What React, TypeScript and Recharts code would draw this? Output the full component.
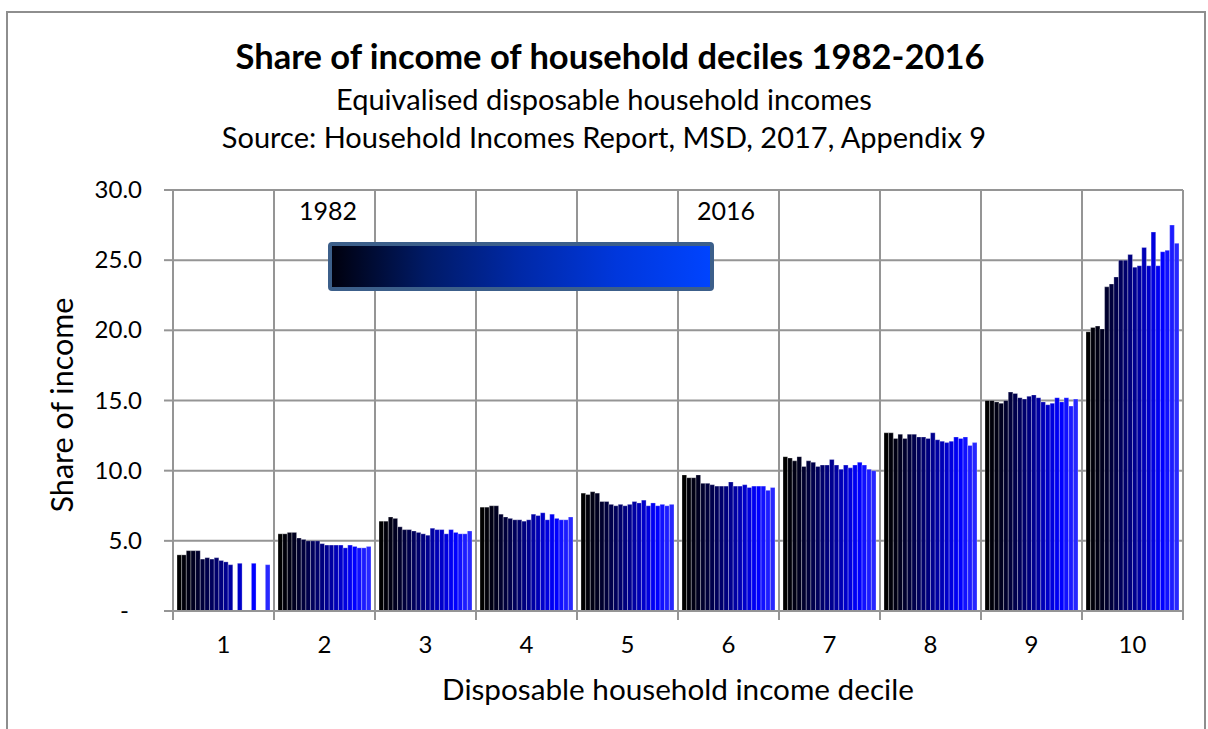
import { BarChart, Bar, XAxis, YAxis, CartesianGrid } from "recharts";

const W = 1208;
const H = 729;
const MARGIN = { top: 190, right: 25, bottom: 88, left: 93 };
const Y_AXIS_W = 80;
const X_AXIS_H = 30;
const PLOT_LEFT = MARGIN.left + Y_AXIS_W;
const PLOT_W = W - PLOT_LEFT - MARGIN.right;
const BAND = PLOT_W / 10;
const PLOT_BOTTOM = H - MARGIN.bottom - X_AXIS_H;
const GRID = "#959595";
const FONT = "Lato, 'Open Sans', sans-serif";

const deciles = ["1", "2", "3", "4", "5", "6", "7", "8", "9", "10"];
const years = [
  1982, 1984, 1986, 1988, 1990, 1992, 1994, 1996, 1998, 2001,
  2004, 2007, 2009, 2010, 2011, 2012, 2013, 2014, 2015, 2016,
];
const yTicks = [0, 5, 10, 15, 20, 25, 30];

// share of income (%) per decile, one value per survey year
const d1 = [4.0, 4.0, 4.3, 4.3, 4.3, 3.7, 3.8, 3.7, 3.8, 3.6, 3.5, 3.3, null, 3.4, null, null, 3.4, null, null, 3.3];
const d2 = [5.5, 5.5, 5.6, 5.6, 5.2, 5.1, 5.0, 5.0, 5.0, 4.8, 4.7, 4.7, 4.7, 4.7, 4.5, 4.7, 4.6, 4.5, 4.5, 4.6];
const d3 = [6.4, 6.4, 6.7, 6.6, 6.0, 5.8, 5.8, 5.7, 5.6, 5.5, 5.4, 5.9, 5.8, 5.8, 5.5, 5.8, 5.6, 5.5, 5.5, 5.7];
const d4 = [7.4, 7.4, 7.5, 7.5, 6.9, 6.7, 6.6, 6.5, 6.5, 6.4, 6.5, 6.9, 6.8, 7.0, 6.5, 6.9, 6.6, 6.5, 6.5, 6.7];
const d5 = [8.4, 8.3, 8.5, 8.4, 7.8, 7.8, 7.6, 7.5, 7.6, 7.5, 7.6, 7.8, 7.7, 7.9, 7.5, 7.7, 7.5, 7.6, 7.5, 7.6];
const d6 = [9.7, 9.5, 9.5, 9.7, 9.1, 9.1, 9.0, 8.9, 8.9, 8.9, 9.2, 8.9, 8.9, 9.0, 8.8, 8.9, 8.9, 8.9, 8.6, 8.8];
const d7 = [11.0, 10.9, 10.7, 11.0, 10.3, 10.7, 10.6, 10.3, 10.4, 10.4, 10.8, 10.4, 10.1, 10.4, 10.2, 10.4, 10.6, 10.4, 10.1, 10.0];
const d8 = [12.7, 12.7, 12.3, 12.6, 12.3, 12.6, 12.6, 12.4, 12.4, 12.3, 12.7, 12.2, 12.1, 12.0, 12.1, 12.4, 12.3, 12.4, 11.8, 12.0];
const d9 = [15.0, 15.0, 14.9, 14.8, 15.0, 15.6, 15.5, 15.2, 15.1, 15.3, 15.4, 15.2, 14.9, 14.7, 14.8, 15.2, 14.9, 15.2, 14.6, 15.1];
const d10 = [19.9, 20.2, 20.3, 20.1, 23.1, 23.3, 23.8, 25.0, 25.0, 25.4, 24.5, 24.6, 25.9, 24.6, 27.0, 24.6, 25.6, 25.7, 27.5, 26.2];

const allDeciles = [d1, d2, d3, d4, d5, d6, d7, d8, d9, d10];

// black to blue, one shade per year
const yearColors = [
  "#000000", "#00000a", "#000014", "#000020", "#00002e", "#00003c", "#00004c", "#00005c", "#00006c", "#00007e",
  "#000090", "#0000a2", "#0000b6", "#0000ca", "#0000de", "#0000f2", "#0000ff", "#1010ff", "#1c1cff", "#2828ff",
];

const data = deciles.map((decile, i) => {
  const row: Record<string, string | number | null> = { decile };
  years.forEach((yr, j) => {
    row["y" + yr] = allDeciles[i][j];
  });
  return row;
});

// eslint-disable-next-line @typescript-eslint/no-explicit-any
function DecileTick({ x, payload, index }: any) {
  const left = x - BAND / 2;
  const right = x + BAND / 2;
  return (
    <g>
      <line x1={left} x2={left} y1={PLOT_BOTTOM} y2={PLOT_BOTTOM + 9} stroke={GRID} strokeWidth={2} />
      {index === deciles.length - 1 && (
        <line x1={right} x2={right} y1={PLOT_BOTTOM} y2={PLOT_BOTTOM + 9} stroke={GRID} strokeWidth={2} />
      )}
      <text x={x} y={PLOT_BOTTOM + 42} textAnchor="middle" fontSize={24} fontFamily={FONT} fill="#000">
        {payload.value}
      </text>
    </g>
  );
}

// eslint-disable-next-line @typescript-eslint/no-explicit-any
function ShareTick({ x, y, payload }: any) {
  const zero = payload.value === 0;
  return (
    <text
      x={zero ? x - 13 : x}
      y={y + 8}
      textAnchor="end"
      fontSize={24}
      fontFamily={FONT}
      fill="#000"
    >
      {zero ? "-" : Number(payload.value).toFixed(1)}
    </text>
  );
}

export default function App() {
  return (
    <div style={{ position: "absolute", left: 0, top: 0, width: W, height: H, overflow: "hidden", background: "#fff" }}>
      <BarChart width={W} height={H} data={data} margin={MARGIN} barGap={0}>
        <CartesianGrid
          stroke={GRID}
          strokeWidth={2}
          verticalCoordinatesGenerator={() => deciles.concat("end").map((_, k) => PLOT_LEFT + k * BAND)}
        />
        <XAxis
          dataKey="decile"
          height={X_AXIS_H}
          axisLine={{ stroke: GRID, strokeWidth: 2 }}
          tickLine={false}
          tick={<DecileTick />}
          interval={0}
        />
        <YAxis
          width={Y_AXIS_W}
          domain={[0, 30]}
          ticks={yTicks}
          allowDataOverflow
          axisLine={{ stroke: GRID, strokeWidth: 2 }}
          tickLine={{ stroke: GRID, strokeWidth: 2 }}
          tickSize={9}
          tickMargin={22}
          tick={<ShareTick />}
        />
        {years.map((yr, j) => (
          <Bar
            key={yr}
            dataKey={"y" + yr}
            fill={yearColors[j]}
            stroke="rgba(255,255,255,0.45)"
            strokeWidth={0.6}
            barSize={4.65}
            isAnimationActive={false}
          />
        ))}
      </BarChart>
      <svg
        width={W}
        height={H}
        style={{ position: "absolute", left: 0, top: 0, pointerEvents: "none" }}
        fontFamily={FONT}
      >
        <defs>
          <linearGradient id="yearRamp" x1="0" x2="1" y1="0" y2="0">
            <stop offset="0%" stopColor="#00000c" />
            <stop offset="25%" stopColor="#001a66" />
            <stop offset="50%" stopColor="#0029a8" />
            <stop offset="75%" stopColor="#0037dc" />
            <stop offset="100%" stopColor="#0044ff" />
          </linearGradient>
        </defs>
        <rect x={7} y={12} width={1198} height={740} fill="none" stroke="#8e8e8e" strokeWidth={2} />
        <text x={610} y={69} textAnchor="middle" fontSize={34.5} fontWeight="bold" fill="#000">
          Share of income of household deciles 1982-2016
        </text>
        <text x={604} y={110} textAnchor="middle" fontSize={29} fill="#000">
          Equivalised disposable household incomes
        </text>
        <text x={604} y={148} textAnchor="middle" fontSize={29} fill="#000">
          Source: Household Incomes Report, MSD, 2017, Appendix 9
        </text>
        <text
          x={0}
          y={0}
          transform="translate(73 405) rotate(-90)"
          textAnchor="middle"
          fontSize={30.5}
          fill="#000"
        >
          Share of income
        </text>
        <text x={678} y={700} textAnchor="middle" fontSize={29.7} fill="#000">
          Disposable household income decile
        </text>
        <rect x={330} y={244} width={382} height={45} rx={2} fill="url(#yearRamp)" stroke="#3c5f8a" strokeWidth={4} />
        <text x={328} y={220} textAnchor="middle" fontSize={25} fill="#000">
          1982
        </text>
        <text x={726} y={220} textAnchor="middle" fontSize={25} fill="#000">
          2016
        </text>
      </svg>
    </div>
  );
}
